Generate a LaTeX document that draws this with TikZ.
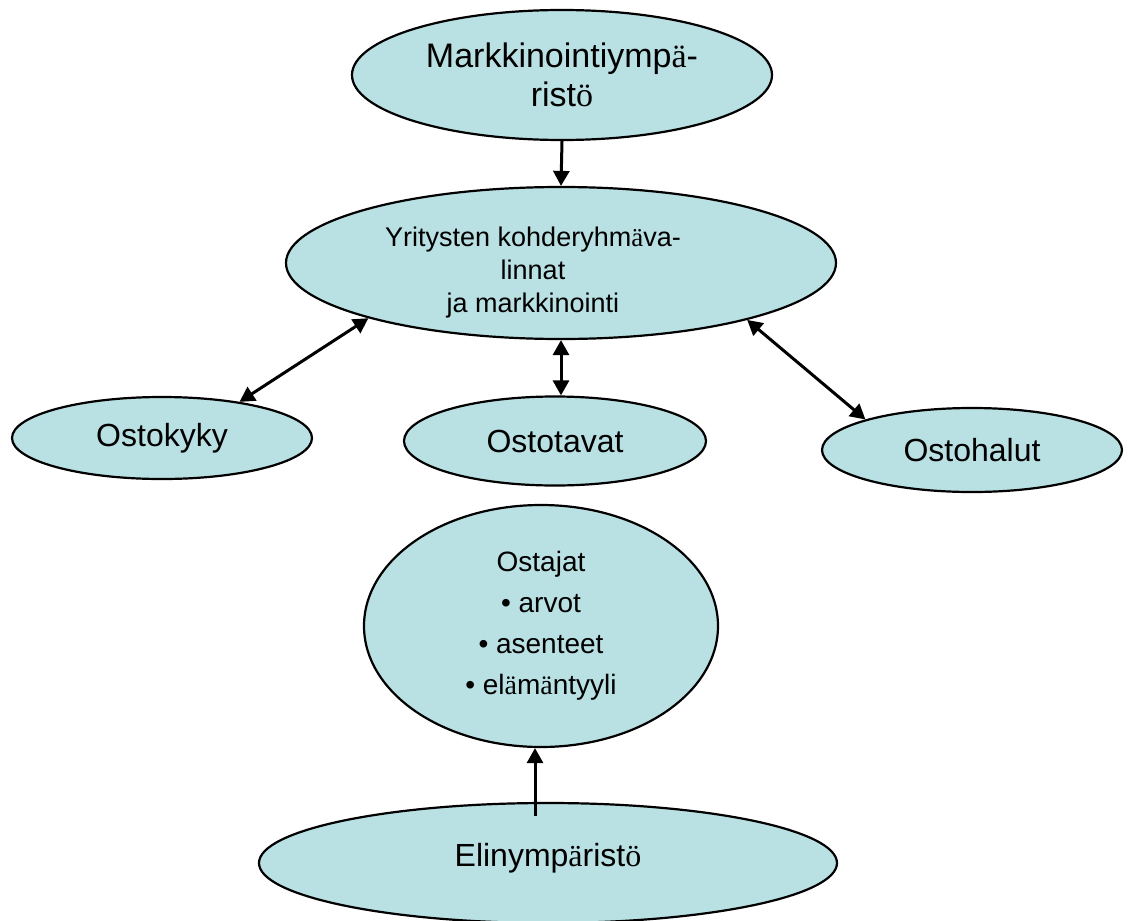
\documentclass[tikz,border=0pt]{standalone}
\usepackage{fontspec}
\setmainfont{Liberation Sans}
\newfontfamily\umlfont{Liberation Serif}
\usetikzlibrary{shapes.geometric,arrows.meta}
\definecolor{ellfill}{RGB}{185,224,227}
\newcommand{\uml}[1]{{\umlfont #1}}
\newcommand{\fsz}[2]{\fontsize{#1}{#2}\selectfont}

\begin{document}
\begin{tikzpicture}[x=1pt, y=1pt,
  ell/.style={ellipse, draw=black, line width=2.2pt, fill=ellfill, inner sep=0pt, align=center},
  link/.style={line width=3pt, -{Triangle[length=15pt,width=16pt]}},
  twoway/.style={line width=3pt, {Triangle[length=15pt,width=16pt]}-{Triangle[length=15pt,width=16pt]}}]
  \useasboundingbox (0,0) rectangle (1128,-921);
  \node[ell, minimum width=420pt, minimum height=130pt, font=\fsz{34}{39}] (markk) at (562,-75) {Markkinointiymp\uml{ä}-\\rist\uml{ö}};
  \node[ell, minimum width=550pt, minimum height=152pt, font=\fsz{27}{33}] (yrit) at (561,-263) {\raisebox{-10pt}[\height][\depth]{\begin{tabular}{@{}c@{}}Yritysten kohderyhm\uml{ä}va-\\linnat\\ja markkinointi\end{tabular}}\hspace{56pt}};
  \node[ell, minimum width=300pt, minimum height=82pt, font=\fsz{32}{38}] (kyky) at (162,-438) {Ostokyky};
  \node[ell, minimum width=302pt, minimum height=89pt, font=\fsz{32}{38}] (tavat) at (555,-441) {Ostotavat};
  \node[ell, minimum width=300pt, minimum height=84pt, font=\fsz{32}{38}] (halut) at (972,-450) {Ostohalut};
  \node[ell, minimum width=354pt, minimum height=242pt, font=\fsz{28}{41}] (ostajat) at (541,-626) {Ostajat\\• arvot\\• asenteet\\• el\uml{ä}m\uml{ä}ntyyli};
  \node[ell, minimum width=578pt, minimum height=120pt, font=\fsz{32}{38}] (elin) at (548,-863) {\raisebox{16pt}{Elinymp\uml{ä}rist\uml{ö}}};
  % nuolet: kaksisuuntaiset ostajien ominaisuuksista
  \draw[link] (markk.south) -- (yrit.north);
  \draw[twoway] (kyky.25) -- (yrit.196);
  \draw[twoway] (yrit.south) -- (tavat.north -| yrit.south);
  \draw[twoway] (yrit.343) -- (halut.164);
  \coordinate (elinstart) at (535,-816);
  \draw[link] (elinstart) -- (ostajat.south -| elinstart);
\end{tikzpicture}
\end{document}
